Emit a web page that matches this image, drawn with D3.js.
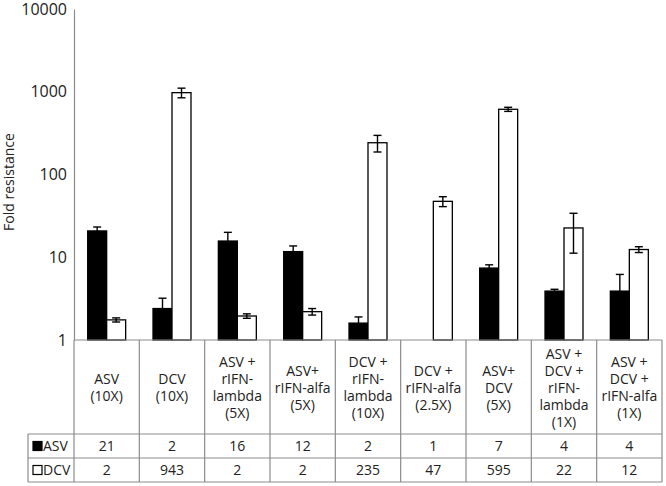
<!DOCTYPE html>
<html>
<head>
<meta charset="utf-8">
<script src="https://cdn.jsdelivr.net/npm/d3@7"></script>
<style>
  body { margin: 0; background: #fff; }
  svg { display: block; font-family: "Open Sans", sans-serif; }
</style>
</head>
<body>
<div id="chart"></div>
<script>
// category labels, one entry per line of the table header cell
const categories = [
  ["ASV", "(10X)"],
  ["DCV", "(10X)"],
  ["ASV +", "rIFN-", "lambda", "(5X)"],
  ["ASV+", "rIFN-alfa", "(5X)"],
  ["DCV +", "rIFN-", "lambda", "(10X)"],
  ["DCV +", "rIFN-alfa", "(2.5X)"],
  ["ASV+", "DCV", "(5X)"],
  ["ASV +", "DCV +", "rIFN-", "lambda", "(1X)"],
  ["ASV +", "DCV +", "rIFN-alfa", "(1X)"],
];
const series = ["ASV", "DCV"];

// bar heights
const asvValues = [20.8, 2.4, 15.7, 11.7, 1.6, 1, 7.4, 3.9, 3.9];
const dcvValues = [1.75, 975, 1.95, 2.2, 242, 47.4, 614, 22.6, 12.4];
// +/- error
const asvErrors = [2.4, 0.8, 4.3, 2.0, 0.3, 0, 0.7, 0.2, 2.3];
const dcvErrors = [0.1, 130, 0.12, 0.2, 55, 6.5, 35, 11.4, 1.0];

// numbers in the data table
const asvTable = ["21", "2", "16", "12", "2", "1", "7", "4", "4"];
const dcvTable = ["2", "943", "2", "2", "235", "47", "595", "22", "12"];

const yTicks = [1, 10, 100, 1000, 10000];

const W = 666, H = 486;
const plot = { left: 74, right: 662, top: 9, bottom: 340 };
const table = { left: 28, header: 434, row1: 458, row2: 482 };
const gridColor = "#8c8c8c";
const textColor = "#222";

const svg = d3.select("#chart").append("svg")
  .attr("width", W)
  .attr("height", H);

const x = d3.scaleBand()
  .domain(d3.range(categories.length))
  .range([plot.left, plot.right]);

const xs = d3.scaleBand()
  .domain(series)
  .range([0, x.bandwidth()])
  .paddingOuter(0.72);

const y = d3.scaleLog()
  .domain([1, 10000])
  .range([plot.bottom, plot.top]);

// y axis
const yAxis = svg.append("g")
  .attr("transform", `translate(${plot.left},0)`)
  .call(d3.axisLeft(y).tickValues(yTicks).tickFormat(d3.format("d")).tickSize(0).tickPadding(7));
yAxis.select(".domain").attr("stroke", gridColor).attr("stroke-width", 1.2);
yAxis.selectAll("text")
  .attr("font-size", 16)
  .attr("font-family", "Open Sans, sans-serif")
  .attr("fill", textColor);

svg.append("text")
  .attr("transform", `translate(14,182) rotate(-90)`)
  .attr("text-anchor", "middle")
  .attr("font-size", 14)
  .attr("fill", textColor)
  .text("Fold resistance");

// bars
const rows = series.map((s, si) => ({
  key: s,
  values: si === 0 ? asvValues : dcvValues,
  errors: si === 0 ? asvErrors : dcvErrors,
  fill: si === 0 ? "#000" : "#fff",
}));

const groups = svg.append("g").selectAll("g")
  .data(rows)
  .join("g");

groups.selectAll("rect")
  .data(r => r.values.map((v, i) => ({ r, v, i })))
  .join("rect")
  .attr("x", d => x(d.i) + xs(d.r.key))
  .attr("width", xs.bandwidth())
  .attr("y", d => y(d.v))
  .attr("height", d => y(1) - y(d.v))
  .attr("fill", d => d.r.fill)
  .attr("stroke", "#000")
  .attr("stroke-width", d => d.v > 1 ? 1.3 : 0);

// error bars
const errs = groups.selectAll("g.err")
  .data(r => r.values.map((v, i) => ({ r, v, e: r.errors[i], i })).filter(d => d.e > 0))
  .join("g")
  .attr("class", "err")
  .attr("stroke", "#000")
  .attr("stroke-width", 1.4)
  .attr("transform", d => `translate(${x(d.i) + xs(d.r.key) + xs.bandwidth() / 2},0)`);
errs.append("line")
  .attr("y1", d => y(d.v + d.e))
  .attr("y2", d => y(Math.max(1, d.v - d.e)));
errs.append("line")
  .attr("x1", -4).attr("x2", 4)
  .attr("y1", d => y(d.v + d.e)).attr("y2", d => y(d.v + d.e));
errs.append("line")
  .attr("x1", -4).attr("x2", 4)
  .attr("y1", d => y(d.v - d.e)).attr("y2", d => y(d.v - d.e));

// data table
const grid = svg.append("g")
  .attr("stroke", gridColor)
  .attr("stroke-width", 1.2)
  .attr("fill", "none");

grid.append("line")
  .attr("x1", plot.left).attr("x2", plot.right)
  .attr("y1", plot.bottom).attr("y2", plot.bottom);
[table.header, table.row1, table.row2].forEach(yy => {
  grid.append("line")
    .attr("x1", table.left).attr("x2", plot.right)
    .attr("y1", yy).attr("y2", yy);
});
grid.append("line")
  .attr("x1", table.left).attr("x2", table.left)
  .attr("y1", table.header).attr("y2", table.row2);
d3.range(categories.length + 1).forEach(i => {
  const xx = i < categories.length ? x(i) : plot.right;
  grid.append("line")
    .attr("x1", xx).attr("x2", xx)
    .attr("y1", plot.bottom).attr("y2", table.row2);
});

const lineH = 17;
const headerMid = (plot.bottom + table.header) / 2 + 1;
svg.append("g").selectAll("text")
  .data(categories)
  .join("text")
  .attr("text-anchor", "middle")
  .attr("font-size", 14)
  .attr("fill", textColor)
  .attr("x", (d, i) => x(i) + x.bandwidth() / 2)
  .attr("y", d => headerMid - (d.length - 1) * lineH / 2)
  .selectAll("tspan")
  .data(d => d)
  .join("tspan")
  .attr("x", function () { return this.parentNode.getAttribute("x"); })
  .attr("dy", (d, i) => i === 0 ? "0.35em" : lineH)
  .text(d => d);

const tableRows = [
  { key: "ASV", cells: asvTable, y0: table.header, y1: table.row1, fill: "#000" },
  { key: "DCV", cells: dcvTable, y0: table.row1, y1: table.row2, fill: "#fff" },
];

tableRows.forEach(row => {
  const mid = (row.y0 + row.y1) / 2;
  svg.append("rect")
    .attr("x", 33).attr("y", mid - 4.5)
    .attr("width", 9).attr("height", 9)
    .attr("fill", row.fill)
    .attr("stroke", "#000")
    .attr("stroke-width", 1.2);
  svg.append("text")
    .attr("x", 43).attr("y", mid)
    .attr("dy", "0.35em")
    .attr("font-size", 14)
    .attr("fill", textColor)
    .text(row.key);
  svg.append("g").selectAll("text")
    .data(row.cells)
    .join("text")
    .attr("text-anchor", "middle")
    .attr("x", (d, i) => x(i) + x.bandwidth() / 2)
    .attr("y", mid)
    .attr("dy", "0.35em")
    .attr("font-size", 14)
    .attr("fill", textColor)
    .text(d => d);
});
</script>
</body>
</html>
